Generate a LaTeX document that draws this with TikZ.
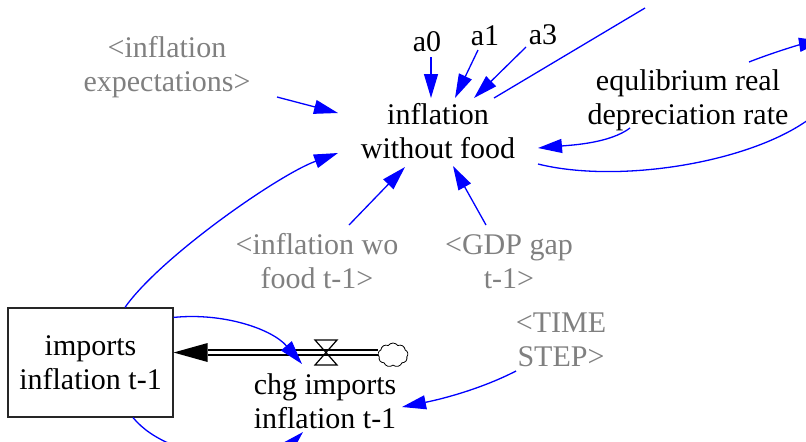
\documentclass[tikz,border=0pt]{standalone}
\usepackage{fontspec}
\setmainfont{Liberation Serif}
\usetikzlibrary{arrows.meta,shapes.symbols}
\definecolor{vblue}{RGB}{0,0,255}
\definecolor{vgray}{RGB}{128,128,128}
\begin{document}
\begin{tikzpicture}[x=0.5pt,y=-0.5pt,
  txt/.style={font=\fontsize{15}{16.8}\selectfont, align=center, inner sep=0pt},
  ghost/.style={txt, text=vgray},
  link/.style={draw=vblue, line width=0.65pt, -{Triangle[length=12pt,width=7pt]}},
  plain/.style={draw=vblue, line width=0.65pt},
  stockbox/.style={txt, draw=black!85, line width=0.6pt, minimum width=82.5pt, minimum height=54.5pt},
  pipe/.style={draw=black, line width=0.7pt, double=white, double distance=1.75pt},
  valveshape/.style={draw=black, line width=0.6pt},
  cloudshape/.style={cloud, draw=black, line width=0.4pt, cloud puffs=9, cloud puff arc=110, inner sep=0pt, minimum width=15pt, minimum height=12pt},
]
\path[use as bounding box] (0,0) rectangle (806,441);
\clip (0,0) rectangle (806,441);

% nodes
\node[txt] (a0) at (427,42) {a0};
\node[txt] (a1) at (485,36) {a1};
\node[txt] (a3) at (543,35) {a3};
\node[txt] (infl) at (438,131) {inflation\\without food};
\node[txt] (eq) at (688,100.5) {equlibrium real\\depreciation rate};
\node[ghost] (exp) at (167,67) {<inflation\\expectations>};
\node[ghost] (wo) at (317,261) {<inflation wo\\food t-1>};
\node[ghost] (gdp) at (509,262) {<GDP gap\\t-1>};
\node[ghost] (ts) at (561,340) {<TIME\\STEP>};
\node[stockbox] (box) at (90.5,362.5) {imports\\inflation t-1};
\node[txt] (chg) at (325,401) {chg imports\\inflation t-1};

% flow pipe, valve, cloud
\coordinate (valve) at (326,352.5);
\node[cloudshape] (cloud) at (393,355) {};
\coordinate (pipeend) at (box.east |- valve);
\draw[pipe] (valve -| cloud.west) -- ([xshift=17pt]pipeend);
\fill[black] (pipeend) -- ++(34,-9.5) -- ++(0,19) -- cycle;
\draw[valveshape] ([shift={(-11,-12.5)}]valve) -- ++(22,0) -- ++(-22,25) -- ++(22,0) -- cycle;

% free ends
\coordinate (topexit) at (645,8);
\coordinate (rightexit) at (812,117);
\coordinate (rightexit2) at (823,41);

% connectors
\draw[link] ([shift={(4,15)}]a0.center) -- ([shift={(-7,-33)}]infl.center);
\draw[link] ([shift={(-7,14)}]a1.center) -- ([shift={(17,-33)}]infl.center);
\draw[link] ([shift={(-17,12)}]a3.center) -- ([shift={(36,-33)}]infl.center);
\draw[plain] ([shift={(56,-33)}]infl.center) -- (topexit);
\draw[link] ([shift={(-58,27.5)}]eq.center) .. controls +(-20,15) and +(35,-3) .. ([shift={(100,17)}]infl.center);
\draw[plain] ([shift={(100,33)}]infl.center) .. controls +(80,20) and +(-60,46) .. (rightexit);
\draw[link] ([shift={(61,-38.5)}]eq.center) .. controls +(20,-8) and +(-25,4) .. (rightexit2);
\draw[link] ([shift={(110,30)}]exp.center) -- ([shift={(-100,-18)}]infl.center);
\draw[link] ([shift={(34.5,0)}]box.north) .. controls +(35,-50) and +(-60,22) .. ([shift={(-100,22)}]infl.center);
\draw[link] ([shift={(32,-36)}]wo.center) -- ([shift={(-33,36)}]infl.center);
\draw[link] ([shift={(-23,-37)}]gdp.center) -- ([shift={(15,35)}]infl.center);
\draw[link] ([shift={(0,10)}]box.north east) .. controls +(50,-5) and +(-30,-35) .. ([shift={(-23,-37)}]chg.center);
\draw[link] ([shift={(-45,31)}]ts.center) .. controls +(-35,18) and +(40,-8) .. ([shift={(77,6)}]chg.center);
\draw[link] ([shift={(42.5,0)}]box.south) .. controls +(40,48) and +(-30,30) .. ([shift={(-22,31)}]chg.center);
\end{tikzpicture}
\end{document}
